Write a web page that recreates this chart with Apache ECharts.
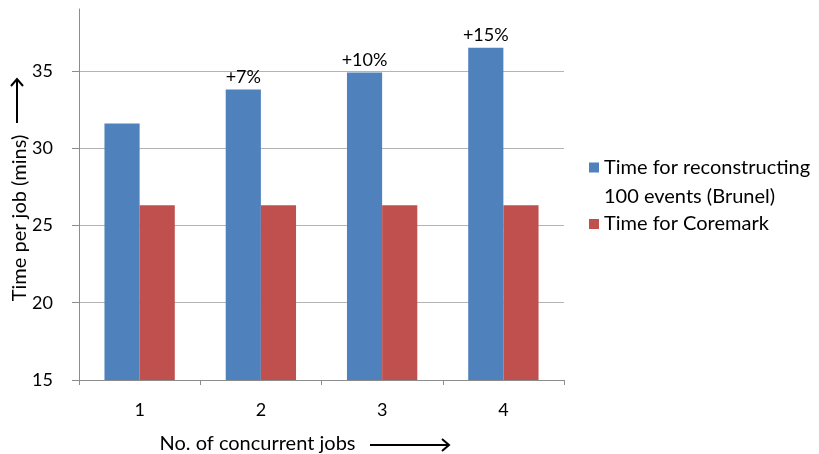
<!DOCTYPE html>
<html>
<head>
<meta charset="utf-8">
<script src="https://cdn.jsdelivr.net/npm/echarts@6/dist/echarts.min.js"></script>
<style>
  html, body { margin: 0; padding: 0; background: #fff; }
  #chart { width: 819px; height: 454px; }
</style>
</head>
<body>
<div id="chart"></div>
<script>
// Number of concurrent jobs on the machine
const jobCounts = ['1', '2', '3', '4'];
// Minutes per job for each workload
const brunelTimes = [31.6, 33.8, 34.9, 36.5];
const coremarkTimes = [26.3, 26.3, 26.3, 26.3];
// Slow-down annotations written above the Brunel bars
const slowdownLabels = ['', '+7%', '+10%', '+15%'];
// Value-axis ticks
const yTicks = [15, 20, 25, 30, 35];

const brunelName = 'Time for reconstructing\n100 events (Brunel)';
const coremarkName = 'Time for Coremark';
const yTitle = 'Time per job (mins)';

const FONT = 'Lato, "Liberation Sans", sans-serif';
const TEXT = '#000';
const AXIS = '#8c8c8c';

const chart = echarts.init(document.getElementById('chart'), null, { renderer: 'canvas' });

chart.setOption({
  backgroundColor: '#fff',
  animation: false,
  textStyle: { fontFamily: FONT, color: TEXT },
  grid: { left: 79, right: 255, top: 9, bottom: 74, containLabel: false, outerBoundsMode: 'none' },
  legend: [
    {
      data: [brunelName],
      orient: 'vertical',
      left: 589,
      top: 124,
      padding: 0,
      itemWidth: 10,
      itemHeight: 10,
      icon: 'rect',
      selectedMode: false,
      // a blank leading line keeps the swatch level with the first text line
      formatter: name => ' \n' + name,
      textStyle: { fontFamily: FONT, fontSize: 20, color: TEXT, lineHeight: 29 }
    },
    {
      data: [coremarkName],
      orient: 'vertical',
      left: 589,
      top: 210,
      padding: 0,
      itemWidth: 10,
      itemHeight: 10,
      icon: 'rect',
      selectedMode: false,
      textStyle: { fontFamily: FONT, fontSize: 20, color: TEXT, lineHeight: 28 }
    }
  ],
  xAxis: {
    type: 'category',
    data: jobCounts,
    boundaryGap: true,
    name: 'No. of concurrent jobs',
    nameLocation: 'middle',
    nameGap: 54,
    nameTextStyle: { fontFamily: FONT, fontSize: 20, color: TEXT, padding: [0, 128, 0, 0] },
    axisLine: { show: true, lineStyle: { color: AXIS, width: 1 } },
    axisTick: { show: true, length: 5, lineStyle: { color: AXIS } },
    axisLabel: { fontFamily: FONT, fontSize: 18, color: TEXT, margin: 21 },
    splitLine: { show: false }
  },
  yAxis: {
    type: 'value',
    min: 15,
    max: 39,
    interval: 5,
    axisLine: { show: true, lineStyle: { color: AXIS, width: 1 } },
    axisTick: { show: true, inside: false, length: 7, customValues: yTicks, lineStyle: { color: AXIS } },
    axisLabel: { fontFamily: FONT, fontSize: 18, color: TEXT, margin: 26, customValues: yTicks },
    splitLine: { show: true, lineStyle: { color: '#b4b4b4', width: 1 } }
  },
  series: [
    {
      name: brunelName,
      type: 'bar',
      data: brunelTimes,
      barGap: '0%',
      barCategoryGap: '42%',
      itemStyle: { color: '#4F81BD' },
      label: {
        show: true,
        position: 'top',
        distance: 3,
        fontFamily: FONT,
        fontSize: 18,
        color: TEXT,
        formatter: p => slowdownLabels[p.dataIndex]
      }
    },
    {
      name: coremarkName,
      type: 'bar',
      data: coremarkTimes,
      barGap: '0%',
      barCategoryGap: '42%',
      itemStyle: { color: '#C0504D' }
    }
  ],
  graphic: [
    // value-axis title, reading bottom to top
    {
      type: 'text',
      x: 20,
      y: 218,
      rotation: Math.PI / 2,
      silent: true,
      style: { text: yTitle, fontFamily: FONT, fontSize: 20, fill: TEXT, align: 'center', verticalAlign: 'middle' }
    },
    // upward arrow beside the value-axis title
    {
      type: 'group',
      silent: true,
      children: [
        { type: 'line', shape: { x1: 17, y1: 123, x2: 17, y2: 79 }, style: { stroke: '#000', lineWidth: 2 } },
        { type: 'polyline', shape: { points: [[11, 86], [17, 79], [23, 86]] }, style: { stroke: '#000', lineWidth: 2, fill: null } }
      ]
    },
    // rightward arrow after the category-axis title
    {
      type: 'group',
      silent: true,
      children: [
        { type: 'line', shape: { x1: 370, y1: 445, x2: 449, y2: 445 }, style: { stroke: '#000', lineWidth: 2 } },
        { type: 'polyline', shape: { points: [[442, 439], [449, 445], [442, 451]] }, style: { stroke: '#000', lineWidth: 2, fill: null } }
      ]
    }
  ]
});
</script>
</body>
</html>
